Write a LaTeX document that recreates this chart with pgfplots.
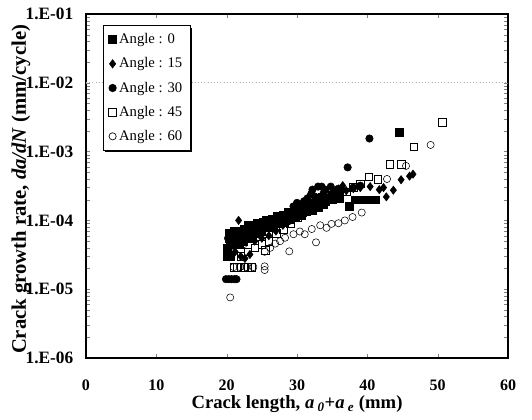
\documentclass[border=0pt]{standalone}
\usepackage{pgfplots}
\pgfplotsset{compat=1.18}
\usepackage{fontspec}
\setmainfont{Liberation Serif}
\usetikzlibrary{shadows}
\begin{document}
\begin{tikzpicture}
\begin{axis}[
  scale only axis, width=316.5pt, height=258pt,
  xmin=0, xmax=60, ymin=1e-6, ymax=1e-1, ymode=log,
  xtick={0,10,...,60},
  ytick={1e-6,1e-5,1e-4,1e-3,1e-2,1e-1},
  yticklabels={1.E-06,1.E-05,1.E-04,1.E-03,1.E-02,1.E-01},
  minor ytick={}, 
  tick align=inside, major tick length=3pt,
  axis line style={line width=1pt},
  /pgf/number format/assume math mode=true,
  xticklabel style={font=\fontsize{12}{14}\selectfont\bfseries, yshift=-13pt},
  yticklabel style={font=\fontsize{13}{15}\selectfont\bfseries, xshift=-6pt},
  xlabel={Crack length, \textit{a}\,\textsubscript{\textit{0}}+\textit{a}\,\textsubscript{\textit{e}} (mm)},
  ylabel={Crack growth rate, \textit{da/dN} (mm/cycle)},
  xlabel style={font=\fontsize{14}{16}\selectfont\bfseries, at={(axis description cs:0.5,-0.135)}, anchor=center},
  ylabel style={font=\fontsize{15.5}{17}\selectfont\bfseries, at={(axis description cs:-0.154,0.49)}, anchor=center},
  extra y ticks={1e-2}, extra y tick labels={},
  extra y tick style={grid=major, major grid style={gray!60, dotted, line width=0.6pt}},
  legend style={at={(axis description cs:0.04,0.968)}, anchor=north west, draw=black, line width=0.8pt, fill=white,
    font=\fontsize{11}{13}\selectfont, row sep=5pt, inner sep=4pt,
    drop shadow={shadow xshift=1.5pt, shadow yshift=-1.5pt, fill=black, opacity=1}},
  legend cell align=left,
  legend image post style={line width=0.5pt},
]
\addplot[only marks, mark=square*, mark size=2.9pt, black] coordinates {
(20.0,3.0e-5)(20.2,3.0e-5)(20.6,3.0e-5)(20.3,5.5e-5)(20.5,4.5e-5)(20.8,6.0e-5)(21.0,5.0e-5)(21.3,6.5e-5)(21.6,5.5e-5)(21.9,7.0e-5)
(22.2,6.0e-5)(22.5,7.5e-5)(22.8,6.5e-5)(23.1,8.5e-5)(23.4,7.0e-5)(23.7,8.0e-5)(24.0,7.5e-5)(24.4,9.0e-5)(24.8,8.0e-5)(25.2,9.5e-5)
(25.6,1.0e-4)(26.0,9.0e-5)(26.4,1.05e-4)(26.8,1.0e-4)(27.2,1.15e-4)(27.6,1.1e-4)(28.0,1.2e-4)(28.4,1.0e-4)(28.8,1.3e-4)(29.2,1.2e-4)
(29.6,1.5e-4)(30.0,1.4e-4)(30.4,1.6e-4)(30.8,1.3e-4)(31.2,1.7e-4)(31.6,1.5e-4)(32.0,1.8e-4)(32.4,1.6e-4)(32.8,2.0e-4)(33.2,1.8e-4)
(33.6,2.2e-4)(34.0,1.9e-4)(34.5,2.1e-4)(35.0,2.0e-4)(35.5,2.3e-4)(36.0,2.1e-4)(37.4,1.6e-4)(38.2,2.0e-4)(38.7,2.0e-4)(39.2,2.0e-4)
(39.7,2.0e-4)(40.2,2.0e-4)(40.7,2.0e-4)(41.2,2.0e-4)(44.5,1.9e-3)
(20.1,4.0e-5)(20.4,6.5e-5)(21.1,7.0e-5)(21.8,4.5e-5)(22.4,5.0e-5)(23.0,6.0e-5)(23.6,5.5e-5)(24.2,6.5e-5)(25.0,7.0e-5)(25.8,8.0e-5)
(26.6,8.5e-5)(27.4,9.0e-5)(28.2,9.5e-5)(29.0,1.05e-4)(29.8,1.15e-4)(30.6,1.2e-4)(31.4,1.35e-4)(32.2,1.4e-4)(33.0,1.55e-4)(33.8,1.7e-4)
};
\addlegendentry{Angle : 0}
\addplot[only marks, mark=diamond*, mark size=3.1pt, black] coordinates {
(21.7,1.0e-4)(20.5,4.0e-5)(21.2,3.5e-5)(22.0,3.0e-5)(22.6,2.8e-5)(23.3,3.2e-5)(24.0,5.0e-5)(25.0,5.5e-5)(26.0,6.0e-5)(27.0,7.0e-5)
(28.0,8.5e-5)(29.0,1.0e-4)(30.0,1.1e-4)(31.0,1.3e-4)(32.0,1.5e-4)(33.0,1.9e-4)(34.0,2.1e-4)(35.0,2.4e-4)(36.0,2.6e-4)(36.5,3.2e-4)
(37.0,2.7e-4)(38.0,2.9e-4)(39.0,3.0e-4)(40.4,3.1e-4)(41.7,2.8e-4)(42.3,3.0e-4)(42.7,2.2e-4)(43.7,2.75e-4)(44.8,3.9e-4)(46.0,4.4e-4)(46.5,4.7e-4)
};
\addlegendentry{Angle : 15}
\addplot[only marks, mark=*, mark size=2.8pt, black] coordinates {
(19.9,1.4e-5)(20.3,1.4e-5)(20.7,1.4e-5)(21.1,1.4e-5)(21.4,1.4e-5)
(20.2,5.5e-5)(20.5,6.5e-5)(21.0,6.0e-5)(22.0,6.0e-5)(23.0,7.0e-5)(24.0,6.5e-5)(25.0,8.0e-5)(26.0,8.5e-5)(27.0,9.0e-5)(28.0,1.1e-4)
(29.0,1.3e-4)(29.5,1.6e-4)(30.0,1.8e-4)(31.0,1.9e-4)(32.0,2.4e-4)(32.2,2.8e-4)(33.0,3.1e-4)(33.5,3.1e-4)(34.0,2.8e-4)(34.8,3.1e-4)
(35.9,2.9e-4)(36.0,2.6e-4)(37.2,5.9e-4)(38.0,3.0e-4)(39.0,3.2e-4)(40.3,1.55e-3)
(30.5,1.6e-4)(31.5,2.1e-4)(32.6,2.2e-4)(33.8,2.5e-4)(35.2,2.7e-4)
};
\addlegendentry{Angle : 30}
\addplot[only marks, mark=square, mark size=2.9pt, black, thin] coordinates {
(20.5,3.8e-5)(21.0,2.1e-5)(21.5,2.1e-5)(22.0,2.1e-5)(22.5,2.1e-5)(23.0,2.1e-5)(23.5,2.1e-5)(22.0,3.0e-5)(23.0,3.5e-5)(24.0,4.0e-5)
(25.0,4.5e-5)(25.5,3.7e-5)(26.0,5.0e-5)(27.0,6.5e-5)(28.0,7.5e-5)(29.0,9.0e-5)(30.0,1.1e-4)(31.0,1.4e-4)(32.0,1.8e-4)(33.0,2.0e-4)
(34.0,2.3e-4)(35.0,2.6e-4)(35.5,2.3e-4)(36.0,2.8e-4)(37.0,2.6e-4)(38.0,3.0e-4)(39.0,3.4e-4)(40.2,4.3e-4)(41.5,4.0e-4)(43.2,6.5e-4)
(44.8,6.5e-4)(46.6,1.18e-3)(50.7,2.66e-3)
};
\addlegendentry{Angle : 45}
\addplot[only marks, mark=o, mark size=2.7pt, black, thin] coordinates {
(20.5,7.6e-6)(21.0,2.1e-5)(21.9,2.1e-5)(22.8,2.1e-5)(23.8,2.1e-5)(25.4,2.15e-5)(25.4,1.9e-5)(22.4,4.5e-5)(25.4,3.5e-5)(26.2,4.0e-5)
(26.9,4.6e-5)(27.6,5.0e-5)(28.3,5.6e-5)(28.9,3.55e-5)(29.5,6.3e-5)(30.4,6.9e-5)(31.1,6.3e-5)(32.1,7.5e-5)(32.7,4.8e-5)(33.3,8.5e-5)
(34.2,7.8e-5)(34.9,8.9e-5)(35.9,9.1e-5)(36.8,1.0e-4)(37.9,1.12e-4)(39.2,1.3e-4)(42.8,4.0e-4)(45.5,6.2e-4)(49.0,1.25e-3)
};
\addlegendentry{Angle : 60}
\end{axis}
\path (-64.5pt,-45.75pt) rectangle (334.5pt,268.5pt);
\end{tikzpicture}
\end{document}
